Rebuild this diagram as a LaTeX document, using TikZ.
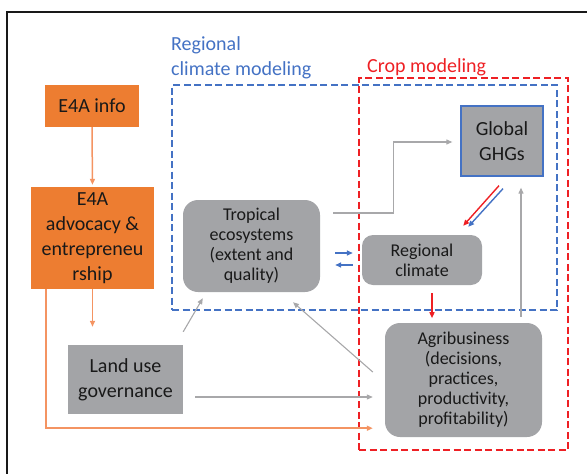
\documentclass[tikz,border=0pt]{standalone}
\usepackage{fontspec}
\setmainfont{Carlito}
\usetikzlibrary{arrows.meta,calc}
\definecolor{eorange}{RGB}{237,125,49}
\definecolor{larrow}{RGB}{244,148,98}
\definecolor{gbox}{RGB}{163,164,167}
\definecolor{gline}{RGB}{168,168,170}
\definecolor{mblue}{RGB}{68,114,196}
\definecolor{mred}{RGB}{238,32,36}
\definecolor{txt}{RGB}{25,25,25}
\begin{document}
\begin{tikzpicture}[x=1pt,y=-1pt,
  big/.style={font=\fontsize{20}{25}\selectfont},
  small/.style={font=\fontsize{18}{20}\selectfont},
  obox/.style={fill=eorange, align=center, inner sep=0pt, big, text=txt},
  gbx/.style={fill=gbox, align=center, inner sep=0pt, text=txt},
  tip/.style={-{Triangle[length=6pt,width=5pt]}},
  oarr/.style={tip, draw=larrow, line width=1.5pt},
  garr/.style={tip, draw=gline, line width=1.1pt},
  barr/.style={tip, draw=mblue, line width=1.4pt},
  rarr/.style={tip, draw=mred, line width=1.4pt},
  dbox/.style={line width=2.3pt, dash pattern=on 7pt off 3.5pt, minimum width=#1},
]
\useasboundingbox (0,0) rectangle (587,474);
% frame
\draw[line width=2pt, black!90] (7,474) -- (7,12) -- (587,12);

% dashed regions
\node (bluereg) [draw=mblue, dbox=385pt, minimum height=225pt] at (364.5,197.5) {};
\node (redreg) [draw=mred, dbox=209pt, minimum height=372pt] at (463.5,264) {};
\node (lblreg) [anchor=west, align=left, text=mblue, big, inner sep=0pt] at (171,57.5) {Regional\\climate modeling};
\node (lblcrop) [anchor=west, text=mred, big, inner sep=0pt] at (367,67) {Crop modeling};

% boxes
\node (info) [obox, minimum width=94pt, minimum height=42pt] at (92,106) {E4A info};
\node (adv) [obox, minimum width=123pt, minimum height=102pt] at (92.5,238) {E4A\\advocacy \&\\entrepreneu\\rship};
\node (land) [gbx, big, minimum width=115pt, minimum height=69pt] at (125.5,379.5) {Land use\\governance};
\node (trop) [gbx, small, rounded corners=15pt, minimum width=137pt, minimum height=92pt] at (251.5,246) {Tropical\\ecosystems\\(extent and\\quality)};
\node (reg) [gbx, small, rounded corners=11pt, minimum width=120pt, minimum height=50pt] at (422,260) {Regional\\climate};
\node (ghg) [gbx, big, draw=mblue, line width=1.3pt, minimum width=82pt, minimum height=70pt] at (502,141) {Global\\GHGs};
\node (agri) [gbx, small, rounded corners=15pt, minimum width=157pt, minimum height=114pt] at (463.5,380) {Agribusiness\\(decisions,\\practices,\\productivity,\\profitability)};

% orange connectors
\draw[oarr, shorten >=2pt] (info.south) -- (adv.north);
\draw[oarr, shorten >=18pt] (adv.south) -- (adv.south |- land.north);
\draw[oarr] (adv.south west) ++(15,0) |- ($(agri.south west)+(-12,-9)$);

% gray connectors
\draw[garr] ($(land.east)+(12,17.5)$) -- ($(agri.west)+(-12,17)$);
\draw[garr] ($(land.north east)+(0,-13)$) -- ($(trop.south west)+(20,6)$);
\draw[garr] ($(agri.west)+(-12,-8)$) -- ($(trop.south)+(41.5,10)$);
\draw[garr] ($(trop.east)+(13,-33)$) -- ++(60,0) |- ($(ghg.west)+(-8,1)$);
\draw[garr] ($(agri.north)+(57.5,-6)$) -- ($(ghg.south)+(19,11)$);

% blue/red connectors
\draw[barr] ($(trop.east)+(15,7)$) -- ($(reg.west)+(-9,-7)$);
\draw[barr] ($(reg.west)+(-9,5)$) -- ($(trop.east)+(15,19)$);
\draw[rarr] ($(ghg.south)+(-3,9)$) -- ($(reg.north east)+(-19,-9)$);
\draw[barr] ($(ghg.south)+(1,12)$) -- ($(reg.north east)+(-14,-8)$);
\draw[rarr] ($(reg.south)+(10,8)$) -- ($(reg.south)+(10,33)$);
\end{tikzpicture}
\end{document}
